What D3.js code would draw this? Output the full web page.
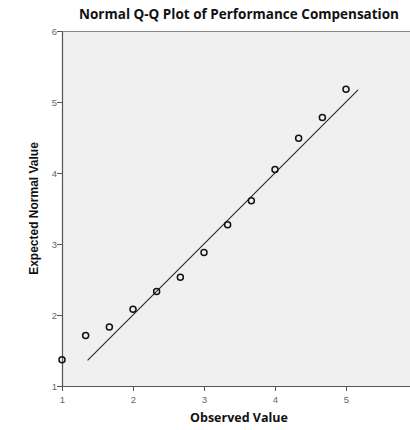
<!DOCTYPE html>
<html><head><meta charset="utf-8">
<script src="https://cdn.jsdelivr.net/npm/d3@7"></script>
<style>html,body{margin:0;padding:0;background:#fff;overflow:hidden}</style>
</head><body>
<script>
const title = "Normal Q-Q Plot of Performance Compensation";
const xLabel = "Observed Value";
const yLabel = "Expected Normal Value";
const observed = [1, 1.333, 1.667, 2, 2.333, 2.667, 3, 3.333, 3.667, 4, 4.333, 4.667, 5];
const expected = [1.37, 1.71, 1.83, 2.08, 2.33, 2.53, 2.88, 3.27, 3.61, 4.05, 4.49, 4.78, 5.18];
const refLine = [1.36, 5.17];
const xTicks = [1, 2, 3, 4, 5];
const yTicks = [1, 2, 3, 4, 5, 6];

(function () {
const W = 410, H = 430;
const svg = d3.select("body").append("svg").attr("width", W).attr("height", H);
const pLeft = 62, pTop = 31, pBottom = 386;
const x = d3.scaleLinear().domain([1, 6]).range([pLeft, pLeft + 5 * 71]);
const y = d3.scaleLinear().domain([1, 6]).range([pBottom, pTop]);

svg.append("rect").attr("x", pLeft).attr("y", pTop)
  .attr("width", x(6) - pLeft).attr("height", pBottom - pTop).attr("fill", "#f0f0f0");
svg.append("line").attr("x1", pLeft).attr("x2", x(6)).attr("y1", pTop + 0.5).attr("y2", pTop + 0.5)
  .attr("stroke", "#8a8a8a").attr("stroke-width", 1);

const gx = svg.append("g").attr("transform", `translate(0,${pBottom})`)
  .call(d3.axisBottom(x).tickValues(xTicks).tickFormat(d3.format("d")).tickSize(5).tickSizeOuter(0));
const gy = svg.append("g").attr("transform", `translate(${pLeft},0)`)
  .call(d3.axisLeft(y).tickValues(yTicks).tickFormat(d3.format("d")).tickSize(5).tickSizeOuter(0));
[gx, gy].forEach(g => {
  g.select(".domain").attr("stroke", "#555").attr("stroke-width", 1.2);
  g.selectAll(".tick line").attr("stroke", "#555");
  g.selectAll(".tick text").attr("fill", "#666").style("font-family", "Liberation Sans, Arial, sans-serif").style("font-size", "9.5px");
});
gx.selectAll(".tick text").attr("dy", "0.9em");
gy.selectAll(".tick text").attr("x", -5);

svg.append("line")
  .attr("x1", x(refLine[0])).attr("y1", y(refLine[0]))
  .attr("x2", x(refLine[1])).attr("y2", y(refLine[1]))
  .attr("stroke", "#222").attr("stroke-width", 1.1);

svg.append("g").selectAll("circle").data(observed).join("circle")
  .attr("cx", (d) => x(d)).attr("cy", (d, i) => y(expected[i])).attr("r", 3)
  .attr("fill", "none").attr("stroke", "#111").attr("stroke-width", 1.5);

svg.append("text").attr("x", 239).attr("y", 19).attr("text-anchor", "middle")
  .style("font-family", "Open Sans, sans-serif").style("font-weight", "bold").style("font-size", "13.5px")
  .attr("fill", "#111").text(title);
svg.append("text").attr("x", 239).attr("y", 422).attr("text-anchor", "middle")
  .style("font-family", "Open Sans, sans-serif").style("font-weight", "bold").style("font-size", "12.5px")
  .attr("fill", "#111").text(xLabel);
svg.append("text").attr("transform", `translate(38,${(pTop + pBottom) / 2}) rotate(-90)`).attr("text-anchor", "middle")
  .style("font-family", "Liberation Sans, Arial, sans-serif").style("font-weight", "bold").style("font-size", "12px")
  .attr("fill", "#111").text(yLabel);
})();
</script>
</body></html>
